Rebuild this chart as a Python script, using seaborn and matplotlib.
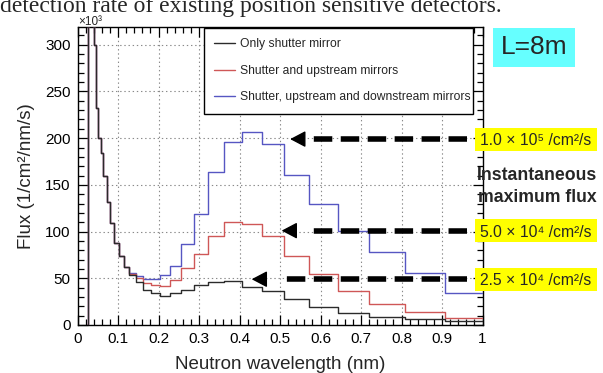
import numpy as np
import pandas as pd
import matplotlib
matplotlib.use("Agg")
import matplotlib.pyplot as plt
import seaborn as sns
from matplotlib.lines import Line2D
from matplotlib.patches import Rectangle

# ---------------- data (flux in units of 10^3 1/cm^2/nm/s) ----------------
bin_edges = [0.0226, 0.0255, 0.0286, 0.0321, 0.036, 0.0404, 0.0453, 0.0509, 0.0571,
             0.0641, 0.0719, 0.0807, 0.0905, 0.1016, 0.114, 0.128, 0.1435, 0.161,
             0.181, 0.203, 0.2275, 0.2555, 0.2865, 0.3215, 0.361, 0.405, 0.4545,
             0.51, 0.572, 0.642, 0.7205, 0.8085, 0.907, 1.0]

only_shutter = [0, 900, 750, 600, 450, 300, 232, 200, 184, 159, 132, 109, 87.5, 73.5,
                62, 54, 46, 37.5, 34, 31, 34, 38, 43, 46.5, 47.5, 41, 36, 27.5,
                19.5, 13, 8.5, 6, 4.5]
shutter_upstream = [0, 900, 750, 600, 450, 300, 232, 200, 184, 159, 132, 109, 87.5, 73.5,
                    62, 55, 50, 45, 43, 42, 48, 61, 76, 95, 110, 108, 95.5, 74,
                    55, 36, 23, 14, 8]
shutter_up_down = [0, 900, 750, 600, 450, 300, 232, 200, 184, 159, 132, 109, 87.5, 73.5,
                   62, 56, 52, 49, 49, 54, 63, 87, 119, 164, 196, 207, 194, 161,
                   130, 101, 78.5, 55.5, 34]

series_labels = ["Only shutter mirror",
                 "Shutter and upstream mirrors",
                 "Shutter, upstream and downstream mirrors"]
series_colors = ["#2b2b2b", "#cf5757", "#5656c2"]

x_ticks = [0, 0.1, 0.2, 0.3, 0.4, 0.5, 0.6, 0.7, 0.8, 0.9, 1]
x_ticklabels = ["0", "0.1", "0.2", "0.3", "0.4", "0.5", "0.6", "0.7", "0.8", "0.9", "1"]
y_ticks = [0, 50, 100, 150, 200, 250, 300]

arrow_levels = [199, 101, 49]
arrow_tips = [0.525, 0.504, 0.43]
arrow_dash_start = [0.582, 0.582, 0.515]
flux_labels = ["1.0 × 10⁵ /cm²/s", "5.0 × 10⁴ /cm²/s", "2.5 × 10⁴ /cm²/s"]

# ---------------- figure ----------------
sns.set_style("ticks")
plt.rcParams["font.family"] = ["Liberation Sans", "DejaVu Sans"]
plt.rcParams["lines.scale_dashes"] = False

W, H = 603, 373
fig = plt.figure(figsize=(W / 100, H / 100), dpi=100)
ax = fig.add_axes([77.5 / W, 1 - 325 / H, 405 / W, 298 / H])

edges = np.array(bin_edges)
centers = 0.5 * (edges[:-1] + edges[1:])

for vals, col in [(shutter_up_down, series_colors[2]),
                  (shutter_upstream, series_colors[1]),
                  (only_shutter, series_colors[0])]:
    df = pd.DataFrame({"wl": centers, "flux": np.asarray(vals, dtype=float)})
    sns.histplot(data=df, x="wl", weights="flux", bins=list(bin_edges), element="step",
                 fill=False, color=col, linewidth=1.0, ax=ax, zorder=3)

ax.set_xlim(0, 1)
ax.set_ylim(0, 319)
ax.set_xticks(x_ticks)
ax.set_xticklabels(x_ticklabels)
ax.set_yticks(y_ticks)
ax.xaxis.set_minor_locator(matplotlib.ticker.MultipleLocator(0.02))
ax.yaxis.set_minor_locator(matplotlib.ticker.MultipleLocator(10))
ax.tick_params(which="both", direction="in", top=True, right=True, colors="black",
               labelsize=11, width=0.9)
ax.tick_params(which="major", length=7, pad=5)
ax.tick_params(which="minor", length=4)
for s in ax.spines.values():
    s.set_visible(True)
    s.set_color("black")
    s.set_linewidth(1.0)

ax.grid(True, which="major", color="#8a8a8a", linestyle=(0, (1, 2)), linewidth=0.8, zorder=0)
ax.set_axisbelow(True)

ax.set_xlabel("Neutron wavelength (nm)", fontsize=13.5, labelpad=7)
ax.set_ylabel("Flux (1/cm²/nm/s)", fontsize=13.5, labelpad=7)

fig.text(78 / W, 1 - 25 / H, "×10³", fontsize=8.5, ha="left", va="baseline")

# legend
handles = [Line2D([], [], color=c, lw=1.0) for c in series_colors]
leg = ax.legend(handles, series_labels, loc="upper left",
                bbox_to_anchor=(126.5 / 405, 0.9966, 269 / 405, 0.0), mode="expand",
                fontsize=8.7, frameon=True, fancybox=False, edgecolor="black",
                framealpha=1, borderpad=0.85, labelspacing=1.2, handlelength=1.75,
                handletextpad=0.4, borderaxespad=0)
leg.get_frame().set_linewidth(1.0)
leg.set_zorder(5)

# dashed arrows
for y, tip, x0 in zip(arrow_levels, arrow_tips, arrow_dash_start):
    ax.plot([0.962, x0], [y, y], color="black", lw=4,
            linestyle=(0, (13.3, 6.1)), solid_capstyle="butt",
            dash_capstyle="butt", zorder=6, clip_on=False)
    ax.annotate("", xy=(tip, y), xytext=(tip + 0.0335, y),
                arrowprops=dict(arrowstyle="-|>,head_length=0.95,head_width=0.5",
                                mutation_scale=10, color="black", lw=1,
                                shrinkA=0, shrinkB=0), zorder=6)

# yellow flux labels
for y, lab in zip(arrow_levels, flux_labels):
    py = ax.transData.transform((0, y))[1]  # display px from bottom
    fy = py / H
    fig.add_artist(Rectangle((475 / W, fy - 11.5 / H), 122 / W, 23 / H,
                             transform=fig.transFigure, facecolor="#ffff00",
                             edgecolor="none", zorder=7))
    fig.text(536 / W, fy, lab, fontsize=11.3, ha="center", va="center_baseline",
             zorder=8)

fig.text(597 / W, 1 - 180 / H, "Instantaneous", fontsize=12.7, fontweight="bold",
         ha="right", va="baseline")
fig.text(597 / W, 1 - 201.7 / H, "maximum flux", fontsize=12.7, fontweight="bold",
         ha="right", va="baseline")

# L=8m box
fig.add_artist(Rectangle((493 / W, 1 - 67 / H), 82 / W, 39 / H,
                         transform=fig.transFigure, facecolor="#66ffff",
                         edgecolor="none", zorder=7))
fig.text(534 / W, 1 - 47.5 / H, "L=8m", fontsize=19, ha="center", va="center",
         zorder=8)

# header text from the slide, cut at the top
fig.text(0 / W, 1 - 12 / H, "detection rate of existing position sensitive detectors.",
         fontsize=17, family=["Liberation Serif", "DejaVu Serif"], ha="left",
         va="baseline")

fig.savefig("out.png", dpi=100)
